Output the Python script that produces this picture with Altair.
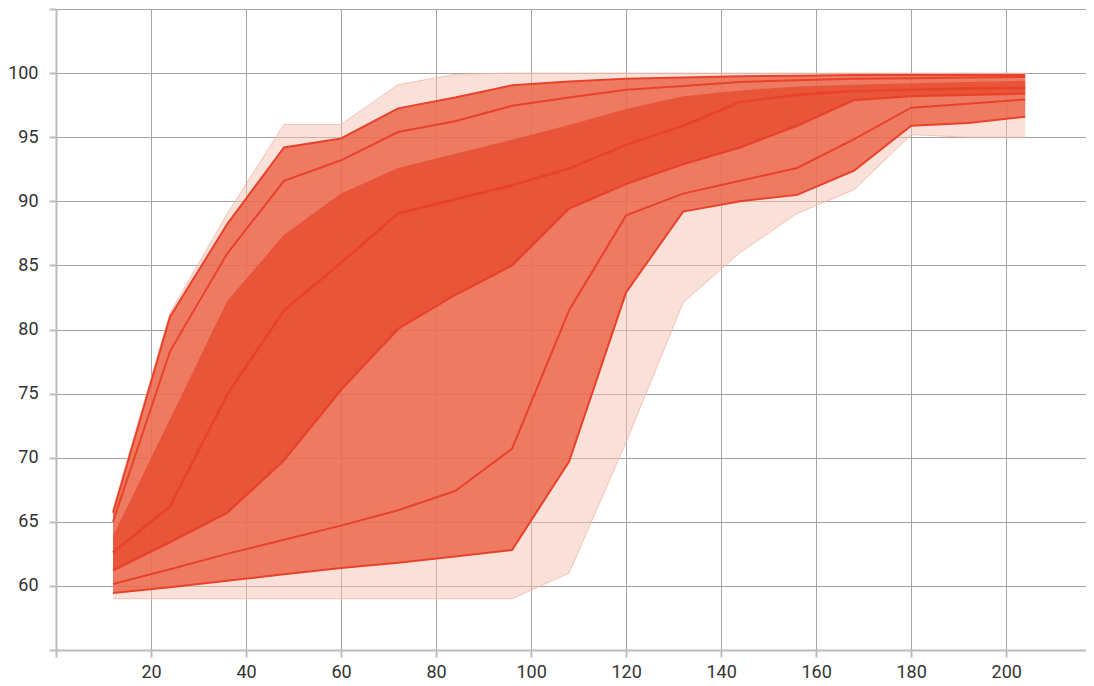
import altair as alt
import pandas as pd

# Training step positions
steps = [12, 24, 36, 48, 60, 72, 84, 96, 108, 120, 132, 144, 156, 168, 180, 192, 204]

# Distribution percentile curves (top to bottom)
p_max = [66.0, 81.3, 89.0, 96.0, 96.0, 99.1, 99.9, 100.0, 100.0, 100.0, 100.0, 100.0, 100.0, 100.0, 100.0, 100.0, 100.0]
p93 = [65.7, 81.0, 88.2, 94.2, 94.9, 97.25, 98.1, 99.05, 99.35, 99.55, 99.65, 99.75, 99.8, 99.85, 99.85, 99.85, 99.85]
p84 = [65.0, 78.3, 85.9, 91.6, 93.2, 95.4, 96.25, 97.45, 98.1, 98.7, 99.0, 99.3, 99.45, 99.55, 99.6, 99.65, 99.7]
p69 = [63.9, 73.0, 82.2, 87.4, 90.6, 92.6, 93.7, 94.8, 95.95, 97.2, 98.2, 98.65, 98.95, 99.1, 99.2, 99.3, 99.4]
p50 = [62.6, 66.2, 74.9, 81.5, 85.2, 89.05, 90.15, 91.25, 92.55, 94.4, 95.9, 97.75, 98.3, 98.6, 98.7, 98.8, 98.85]
p31 = [61.2, 63.4, 65.7, 69.8, 75.3, 80.05, 82.7, 85.0, 89.45, 91.35, 92.9, 94.2, 95.9, 97.9, 98.2, 98.3, 98.4]
p16 = [60.15, 61.3, 62.5, 63.6, 64.7, 65.9, 67.4, 70.7, 81.5, 88.9, 90.6, 91.6, 92.6, 94.85, 97.3, 97.6, 97.95]
p7 = [59.45, 59.9, 60.4, 60.9, 61.4, 61.8, 62.3, 62.8, 69.7, 82.9, 89.2, 90.0, 90.5, 92.4, 95.9, 96.1, 96.6]
p_min = [59.0, 59.0, 59.0, 59.0, 59.0, 59.0, 59.0, 59.0, 61.0, 71.2, 82.1, 86.0, 89.05, 90.9, 95.2, 95.0, 95.0]

# Axis tick values
x_ticks = [0, 20, 40, 60, 80, 100, 120, 140, 160, 180, 200]
y_ticks = [55, 60, 65, 70, 75, 80, 85, 90, 95, 100, 105]

df = pd.DataFrame({
    "step": steps, "pmax": p_max, "p93": p93, "p84": p84, "p69": p69,
    "p50": p50, "p31": p31, "p16": p16, "p7": p7, "pmin": p_min,
})

FONT = "Roboto"
GRID = "#a3a3a3"
AXIS = "#bcbcbc"
LINE = "#e9422a"

x_enc = alt.X(
    "step:Q",
    scale=alt.Scale(domain=[0, 216.8], nice=False, zero=False),
    axis=alt.Axis(
        values=x_ticks, title=None, grid=True, gridColor=GRID, gridWidth=1,
        domainColor=AXIS, domainWidth=2, tickColor=AXIS, tickWidth=2, tickSize=7,
        labelPadding=6, labelFontSize=18, labelFont=FONT, labelColor="#333333",
        labelExpr="datum.value == 0 ? '' : datum.label",
    ),
)


def y_enc(field):
    return alt.Y(
        f"{field}:Q",
        scale=alt.Scale(domain=[55, 105], nice=False, zero=False),
        axis=alt.Axis(
            values=y_ticks, title=None, grid=True, gridColor=GRID, gridWidth=1,
            domainColor=AXIS, domainWidth=2, tickColor=AXIS, tickWidth=2, tickSize=7,
            labelPadding=11, labelFontSize=18, labelFont=FONT, labelColor="#333333",
            labelExpr="(datum.value == 55 || datum.value == 105) ? '' : datum.label",
        ),
    )


base = alt.Chart(df)

light = base.mark_area(color="#f4c4b6", opacity=0.5).encode(x=x_enc, y=y_enc("pmin"), y2="pmax:Q")
light_edge_top = base.mark_line(color="#f3b6a6", strokeWidth=1, opacity=0.8).encode(x=x_enc, y=y_enc("pmax"))
light_edge_bot = base.mark_line(color="#f3b6a6", strokeWidth=1, opacity=0.8).encode(x=x_enc, y=y_enc("pmin"))
medium = base.mark_area(color="#eb6044", opacity=0.8).encode(x=x_enc, y=y_enc("p7"), y2="p93:Q")
dark = base.mark_area(color="#e64c30", opacity=0.8).encode(x=x_enc, y=y_enc("p31"), y2="p69:Q")


def line(field, width):
    return base.mark_line(color=LINE, strokeWidth=width).encode(x=x_enc, y=y_enc(field))


chart = alt.layer(
    light, light_edge_top, light_edge_bot, medium, dark,
    line("p93", 2), line("p84", 2), line("p16", 2), line("p7", 2),
    line("p31", 2.3), line("p50", 2.6),
).properties(
    width=1030, height=641,
    autosize=alt.AutoSizeParams(type="none"),
    padding={"left": 48, "top": 1, "right": 0, "bottom": 30},
    background="#ffffff",
).configure_view(stroke=None)

chart.save("out.html", embed_options={"renderer": "svg", "actions": False})
